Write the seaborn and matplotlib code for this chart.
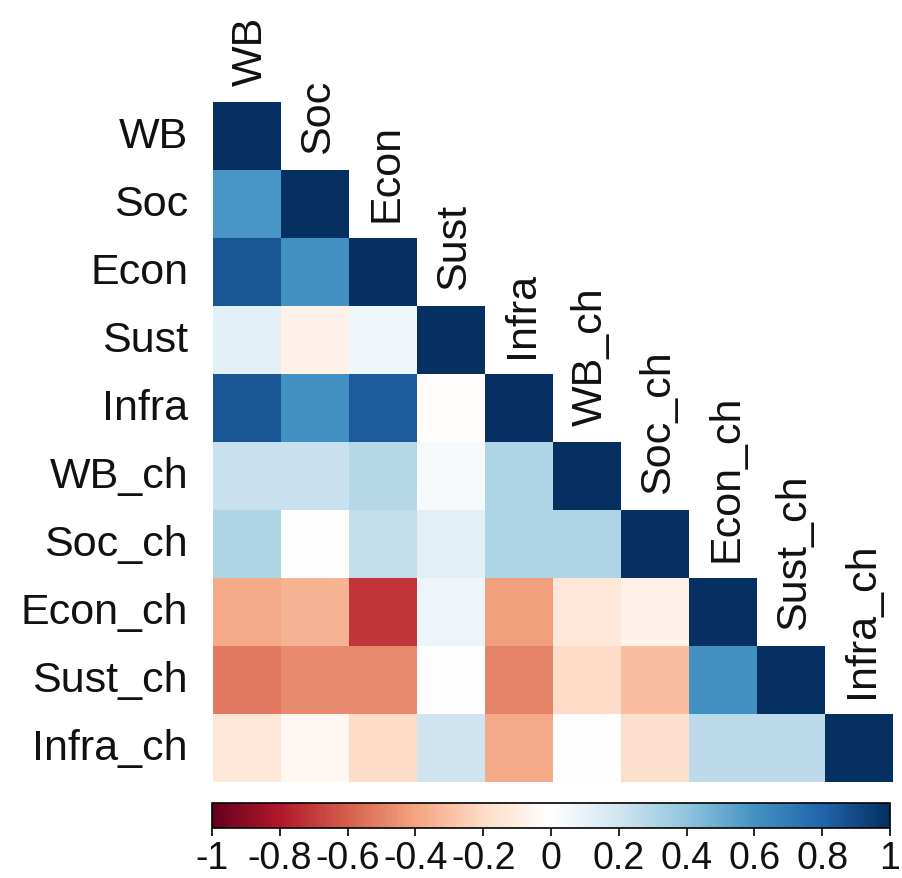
import numpy as np
import pandas as pd
import matplotlib
matplotlib.use("Agg")
import matplotlib.pyplot as plt
from matplotlib.colors import LinearSegmentedColormap
import seaborn as sns

labels = ["WB", "Soc", "Econ", "Sust", "Infra", "WB_ch", "Soc_ch", "Econ_ch", "Sust_ch", "Infra_ch"]

# lower-triangle correlations, row by row (excluding diagonal)
row_WB = []
row_Soc = [0.58]
row_Econ = [0.85, 0.60]
row_Sust = [0.12, -0.08, 0.06]
row_Infra = [0.85, 0.60, 0.83, -0.02]
row_WB_ch = [0.22, 0.22, 0.28, 0.03, 0.30]
row_Soc_ch = [0.30, -0.01, 0.24, 0.12, 0.30, 0.30]
row_Econ_ch = [-0.38, -0.35, -0.72, 0.07, -0.42, -0.14, -0.08]
row_Sust_ch = [-0.53, -0.48, -0.48, -0.01, -0.50, -0.20, -0.32, 0.60]
row_Infra_ch = [-0.14, -0.05, -0.20, 0.20, -0.38, 0.00, -0.18, 0.26, 0.26]

rows = [row_WB, row_Soc, row_Econ, row_Sust, row_Infra, row_WB_ch,
        row_Soc_ch, row_Econ_ch, row_Sust_ch, row_Infra_ch]

n = len(labels)
M = np.eye(n)
for i, r in enumerate(rows):
    for j, v in enumerate(r):
        M[i, j] = v
        M[j, i] = v
df = pd.DataFrame(M, index=labels, columns=labels)
mask = np.triu(np.ones_like(M, dtype=bool), k=1)

cols = ["#67001F", "#B2182B", "#D6604D", "#F4A582", "#FDDBC7", "#FFFFFF",
        "#D1E5F0", "#92C5DE", "#4393C3", "#2166AC", "#053061"]
cmap = LinearSegmentedColormap.from_list("corrRdBu", cols, N=200)

cbar_ticks = [-1, -0.8, -0.6, -0.4, -0.2, 0, 0.2, 0.4, 0.6, 0.8, 1]
cbar_ticklabels = ["-1", "-0.8", "-0.6", "-0.4", "-0.2", "0", "0.2", "0.4", "0.6", "0.8", "1"]

sns.set_style("white")
plt.rcParams['font.family'] = ['Liberation Sans', 'DejaVu Sans']

fs = 31
cfs = 27
W, H = 902, 879
fig = plt.figure(figsize=(W / 100, H / 100), dpi=100)
ax = fig.add_axes([213 / W, (H - 783) / H, 680 / W, 680 / H])
cax = fig.add_axes([212 / W, (H - 829) / H, 678 / W, 25 / H])

sns.heatmap(df, mask=mask, cmap=cmap, vmin=-1, vmax=1, ax=ax, cbar_ax=cax,
            cbar_kws={"orientation": "horizontal", "ticks": cbar_ticks},
            square=False, linewidths=0, xticklabels=False, yticklabels=labels)

ax.set_xlabel("")
ax.set_ylabel("")
ax.tick_params(axis='y', length=0, pad=18, labelsize=fs, labelcolor='#111111')
for t in ax.get_yticklabels():
    t.set_rotation(0)

for i, lab in enumerate(labels):
    ax.text(i + 0.55, i - 0.25, lab, rotation=90, ha='center', va='bottom',
            fontsize=fs, color='#111111', clip_on=False)

cax.set_xticks(cbar_ticks)
cax.set_xticklabels(cbar_ticklabels)
cax.tick_params(axis='x', length=6, width=1.2, pad=3, labelsize=cfs,
                labelcolor='#111111', color='black', bottom=True)
cbar = ax.collections[0].colorbar
cbar.outline.set_visible(True)
cbar.outline.set_edgecolor('black')
cbar.outline.set_linewidth(1.2)

fig.savefig("out.png", dpi=100, facecolor='white')
